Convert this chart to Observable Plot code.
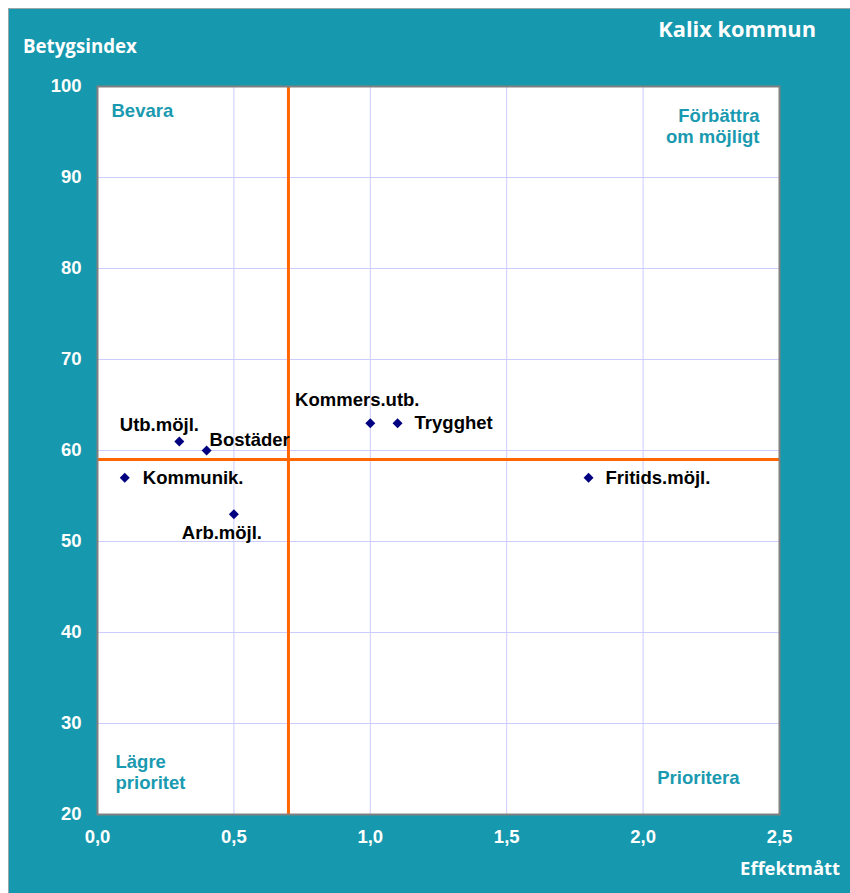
<!DOCTYPE html>
<html>
<head>
<meta charset="utf-8">
<script src="https://cdn.jsdelivr.net/npm/d3@7"></script>
<script src="https://cdn.jsdelivr.net/npm/@observablehq/plot@0.6"></script>
<style>
  html, body { margin: 0; padding: 0; background: #ffffff; width: 850px; height: 893px; overflow: hidden; }
  #frame { position: absolute; left: 8px; top: 8px; width: 842px; height: 885px; background: #1699ae;
           border-top: 1px solid #9aa7aa; border-left: 1px solid #9aa7aa; box-sizing: border-box; }
  .t { position: absolute; color: #ffffff; font-family: "Open Sans", sans-serif; font-weight: bold; white-space: nowrap; }
  #chart { position: absolute; left: -1px; top: -1px; }
</style>
</head>
<body>
<div id="frame">
  <div id="chart"></div>
  <div class="t" style="left:14px; top:24px; font-size:18.7px;">Betygsindex</div>
  <div class="t" style="right:34px; top:5px; font-size:21.8px;">Kalix kommun</div>
  <div class="t" style="right:10px; top:846px; font-size:18.4px;">Effektmått</div>
</div>
<script>
const names = ["Utb.möjl.", "Bostäder", "Kommunik.", "Arb.möjl.", "Kommers.utb.", "Trygghet", "Fritids.möjl."];
const effekt = [0.3, 0.4, 0.1, 0.5, 1.0, 1.1, 1.8];
const betyg = [61, 60, 57, 53, 63, 63, 57];
const labelAnchor = ["middle", "start", "start", "middle", "middle", "start", "start"];
const labelDx = [-20, 3, 18, -12, -13, 17, 17];
const labelDy = [-16, -10, 0, 19, -23, 0, 0];
const xTicks = [0, 0.5, 1.0, 1.5, 2.0, 2.5];
const yTicks = [20, 30, 40, 50, 60, 70, 80, 90, 100];
const refX = [0.7];
const refY = [59];
const quadrants = ["Bevara", "Förbättra\nom möjligt", "Lägre\nprioritet", "Prioritera"];

const points = names.map((n, i) => ({name: n, x: effekt[i], y: betyg[i], anchor: labelAnchor[i], dx: labelDx[i], dy: labelDy[i]}));
const fmt = d => d.toFixed(1).replace(".", ",");
const teal = "#1a9ab0";
const FS = 18.5;
const qStyle = {fill: teal, fontSize: FS, fontWeight: "bold", lineHeight: 1.17};

const chart = Plot.plot({
  width: 842,
  height: 885,
  marginLeft: 89,
  marginRight: 71,
  marginTop: 78,
  marginBottom: 79,
  style: {background: "transparent", fontFamily: "Liberation Sans, Arial, sans-serif"},
  x: {domain: [0, 2.5]},
  y: {domain: [20, 100]},
  marks: [
    Plot.frame({fill: "#ffffff", stroke: null}),
    Plot.gridX(xTicks, {stroke: "#ccccff", strokeOpacity: 1}),
    Plot.gridY(yTicks, {stroke: "#ccccff", strokeOpacity: 1}),
    Plot.ruleX(refX, {stroke: "#ff6600", strokeWidth: 3}),
    Plot.ruleY(refY, {stroke: "#ff6600", strokeWidth: 3}),
    Plot.frame({stroke: "#808080", strokeWidth: 2}),
    Plot.axisX(xTicks, {tickFormat: fmt, tickSize: 0, tickPadding: 15, fill: "#ffffff", fontSize: FS, fontWeight: "bold", label: null}),
    Plot.axisY(yTicks, {tickFormat: d => String(d), tickSize: 0, tickPadding: 16, fill: "#ffffff", fontSize: FS, fontWeight: "bold", label: null}),
    Plot.dot(points, {x: "x", y: "y", symbol: "diamond2", r: 4.5, fill: "#000080", stroke: null}),
    ...points.map(p => Plot.text([p], {x: "x", y: "y", text: "name", textAnchor: p.anchor, dx: p.dx, dy: p.dy, fill: "#000000", fontSize: FS, fontWeight: "bold"})),
    Plot.text([quadrants[0]], {frameAnchor: "top-left", text: d => d, dx: 14, dy: 24, lineAnchor: "middle", textAnchor: "start", ...qStyle}),
    Plot.text([quadrants[1]], {frameAnchor: "top-right", text: d => d, dx: -20, dy: 39, lineAnchor: "middle", textAnchor: "end", ...qStyle}),
    Plot.text([quadrants[2]], {frameAnchor: "bottom-left", text: d => d, dx: 18, dy: -43, lineAnchor: "middle", textAnchor: "start", ...qStyle}),
    Plot.text([quadrants[3]], {frameAnchor: "bottom-right", text: d => d, dx: -40, dy: -37, lineAnchor: "middle", textAnchor: "end", ...qStyle})
  ]
});
document.getElementById("chart").appendChild(chart);
</script>
</body>
</html>
